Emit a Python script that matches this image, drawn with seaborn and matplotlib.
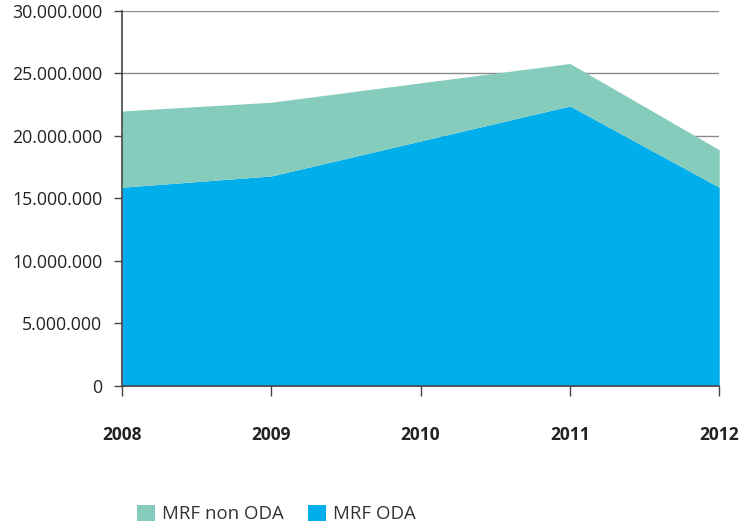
import matplotlib
matplotlib.use("Agg")
import matplotlib.pyplot as plt
from matplotlib.ticker import FuncFormatter
from matplotlib.patches import Patch
import seaborn as sns
import pandas as pd

years = [2008, 2009, 2010, 2011, 2012]
mrf_oda = [15900000, 16800000, 19600000, 22400000, 15900000]
mrf_non_oda = [6100000, 5900000, 4650000, 3400000, 3000000]
series_labels = ["MRF non ODA", "MRF ODA"]
y_ticks = [0, 5000000, 10000000, 15000000, 20000000, 25000000, 30000000]

df = pd.DataFrame({"year": years, "MRF ODA": mrf_oda, "MRF non ODA": mrf_non_oda})

sns.set_theme(style="white")
plt.rcParams["font.family"] = ["Open Sans", "DejaVu Sans"]

col_oda = "#00AEEC"
col_non = "#86CCBC"

fig = plt.figure(figsize=(7.43, 5.23), dpi=100)
ax = fig.add_axes([0.164, 0.262, 0.804, 0.717])

ax.stackplot(df["year"], df["MRF ODA"], df["MRF non ODA"],
             colors=[col_oda, col_non], linewidth=0, zorder=2)

ax.set_xlim(2008, 2012)
ax.set_ylim(0, 30000000)
ax.set_yticks(y_ticks)
ax.set_xticks(years)
ax.yaxis.set_major_formatter(FuncFormatter(lambda v, p: f"{int(v):,}".replace(",", ".")))

ax.grid(axis="y", color="#8a8a8a", linewidth=1.0, zorder=0)
ax.grid(axis="x", visible=False)
ax.set_axisbelow(True)

for s in ["top", "right"]:
    ax.spines[s].set_visible(False)
for s in ["left", "bottom"]:
    ax.spines[s].set_color("#444444")
    ax.spines[s].set_linewidth(1.2)
    ax.spines[s].set_zorder(3)

ax.tick_params(axis="y", direction="out", length=6, width=1, color="#444444",
               pad=8, labelsize=12.8, labelcolor="#222222", left=True)
ax.tick_params(axis="x", direction="out", length=7, width=1, color="#444444",
               pad=22, labelsize=12.5, labelcolor="#222222", bottom=True)
for lab in ax.get_yticklabels():
    lab.set_fontweight("medium")
for lab in ax.get_xticklabels():
    lab.set_fontweight("bold")

ax.set_xlabel("")
ax.set_ylabel("")

handles = [Patch(facecolor=col_non, edgecolor="none"), Patch(facecolor=col_oda, edgecolor="none")]
leg = fig.legend(handles, series_labels, loc="lower left", bbox_to_anchor=(0.162, -0.032),
                 ncol=2, frameon=False, fontsize=13.4, handlelength=0.95, handleheight=0.95,
                 handletextpad=0.4, columnspacing=1.3)
for t in leg.get_texts():
    t.set_color("#333333")

fig.savefig("out.png", dpi=100)
